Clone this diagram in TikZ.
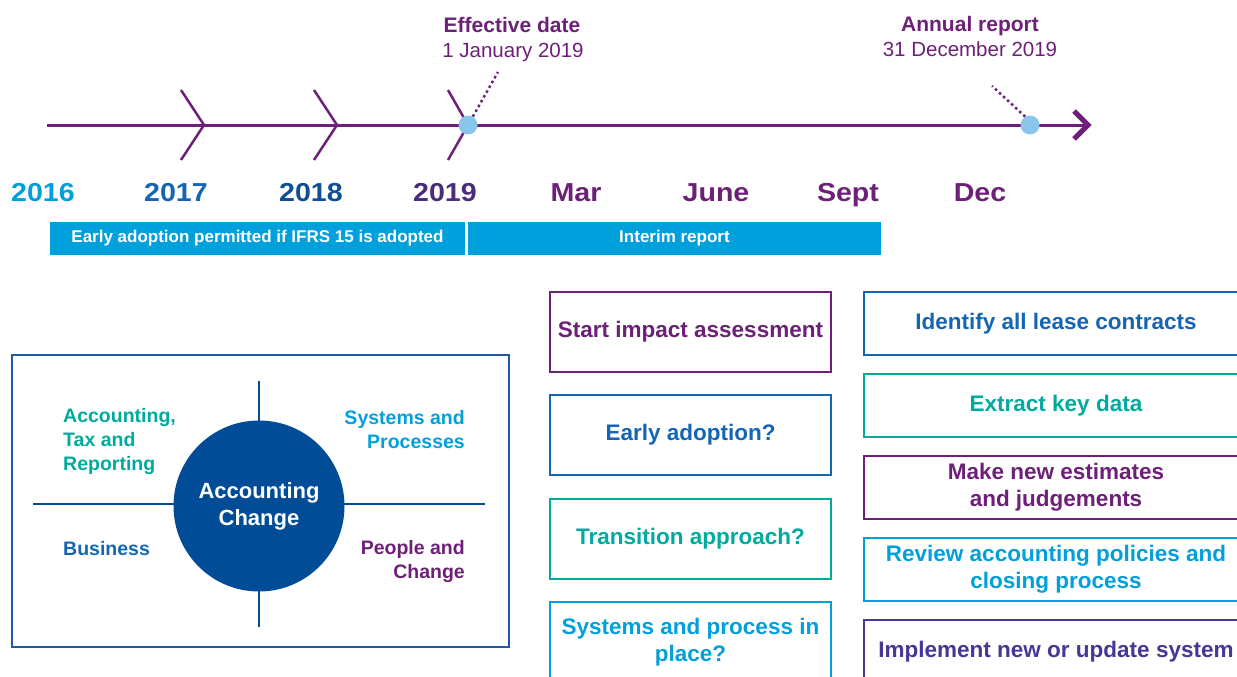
\documentclass[tikz,border=0pt]{standalone}
\usepackage{fontspec}
\setmainfont{Liberation Sans}
\newfontfamily\widefont[FakeStretch=1.1]{Liberation Sans}
\definecolor{kpurple}{HTML}{6D2077}
\definecolor{klight}{HTML}{00A0DC}
\definecolor{kblue}{HTML}{1466B5}
\definecolor{kdark}{HTML}{104E95}
\definecolor{kviolet}{HTML}{4A2C7C}
\definecolor{kteal}{HTML}{00AB9E}
\definecolor{kindigo}{HTML}{483698}
\definecolor{kcircle}{HTML}{004C97}
\definecolor{kframe}{HTML}{1F5BA5}
\definecolor{kdot}{HTML}{8AC6EC}
\tikzset{
  x=1pt, y=-1pt,
  axis/.style={kpurple, line width=3pt},
  chev/.style={kpurple, line width=2.5pt},
  leader/.style={kpurple, line width=2.5pt, dash pattern=on 2.5pt off 3pt},
  event/.style={circle, fill=kdot, minimum size=19pt, inner sep=0pt},
  year/.style={anchor=base, inner sep=0pt, font=\widefont\bfseries\fontsize{26}{30}\selectfont},
  evtitle/.style={anchor=base, inner sep=0pt, text=kpurple, font=\bfseries\fontsize{21}{25}\selectfont},
  evdate/.style={anchor=base, inner sep=0pt, text=kpurple, font=\fontsize{20.5}{25}\selectfont},
  bar/.style={fill=klight, text=white, minimum height=33pt, inner sep=0pt, font=\bfseries\fontsize{17}{20}\selectfont},
  quad/.style={inner sep=0pt, font=\bfseries\fontsize{19.5}{24}\selectfont},
  stepbox/.style={draw, line width=2pt, anchor=north west, inner sep=0pt, align=center,
    font=\bfseries\fontsize{22.5}{27}\selectfont},
  midbox/.style={stepbox, minimum width=281pt, minimum height=80pt},
  sidebox/.style={stepbox, minimum width=384pt, minimum height=63pt},
}
\begin{document}
\begin{tikzpicture}
\useasboundingbox (0,0) rectangle (1237,677);
\clip (0,0) rectangle (1237,677);

% ---------- timeline ----------
\coordinate (tstart) at (47,125);
\coordinate (tend) at (1088,125);
\draw[axis] (tstart) -- (tend);
\draw[kpurple, line width=5pt, line join=miter] (1074,111) -- (1088,125) -- (1074,139);

\draw[chev] (181,90) -- (204,125) -- (181,160);
\draw[chev] (314,90) -- (337,125) -- (314,160);
\draw[chev] (448,90) -- (468,125) -- (448,160);

\node[event] (eff) at (468,125) {};
\node[event] (ann) at (1030,125) {};
\coordinate (effpin) at (498,72);
\coordinate (annpin) at (992,86);
\draw[leader] (eff.60) -- (effpin);
\draw[leader] (ann.120) -- (annpin);

\node[evtitle] (efft) at (512,33) {Effective date};
\node[evdate]  (effd) at (513,58) {1 January 2019};
\node[evtitle] (annt) at (970,32) {Annual report};
\node[evdate]  (annd) at (970,57) {31 December 2019};

% ---------- years and months ----------
\node[year, text=klight]  (y16) at (43,201) {2016};
\node[year, text=kblue]   (y17) at (176,201) {2017};
\node[year, text=kdark]   (y18) at (311,201) {2018};
\node[year, text=kviolet] (y19) at (445,201) {2019};
\node[year, text=kpurple] (mmar) at (576,201) {Mar};
\node[year, text=kpurple] (mjun) at (716,201) {June};
\node[year, text=kpurple] (msep) at (848,201) {Sept};
\node[year, text=kpurple] (mdec) at (980,201) {Dec};

% ---------- period bars ----------
\node[bar, minimum width=415pt] (early) at (257.5,238.5) {Early adoption permitted if IFRS 15 is adopted};
\node[bar, minimum width=413pt] (interim) at (674.5,238.5) {Interim report};

% ---------- accounting change panel ----------
\draw[kframe, line width=2pt] (12,355) rectangle (509,647);
\draw[kcircle, line width=2pt] (33,504) -- (485,504);
\draw[kcircle, line width=2pt] (259,381) -- (259,627);
\node[circle, fill=kcircle, minimum size=171pt, inner sep=0pt, text=white, align=center,
      font=\bfseries\fontsize{22}{27}\selectfont] (core) at (259,506) {Accounting\\Change};
\node[quad, anchor=west, align=left, text=kteal] (atr) at (63,441) {Accounting,\\Tax and\\Reporting};
\node[quad, anchor=east, align=right, text=klight] (sp) at (465,430) {Systems and\\Processes};
\node[quad, anchor=west, text=kblue] (bus) at (63,549) {Business};
\node[quad, anchor=east, align=right, text=kpurple] (pc) at (465,561) {People and\\Change};

% ---------- first steps ----------
\node[midbox, draw=kpurple, text=kpurple] (s1) at (549,291) {Start impact assessment};
\node[midbox, draw=kblue, text=kblue]     (s2) at (549,394) {Early adoption?};
\node[midbox, draw=kteal, text=kteal]     (s3) at (549,498) {Transition approach?};
\node[midbox, draw=klight, text=klight]   (s4) at (549,601) {Systems and process in\\place?};

% ---------- implementation steps ----------
\node[sidebox, draw=kblue, text=kblue]       (r1) at (863,291) {Identify all lease contracts};
\node[sidebox, draw=kteal, text=kteal]       (r2) at (863,373) {Extract key data};
\node[sidebox, draw=kpurple, text=kpurple]   (r3) at (863,455) {Make new estimates\\and judgements};
\node[sidebox, draw=klight, text=klight]     (r4) at (863,537) {Review accounting policies and\\closing process};
\node[sidebox, draw=kindigo, text=kindigo]   (r5) at (863,619) {Implement new or update system};
\end{tikzpicture}
\end{document}
